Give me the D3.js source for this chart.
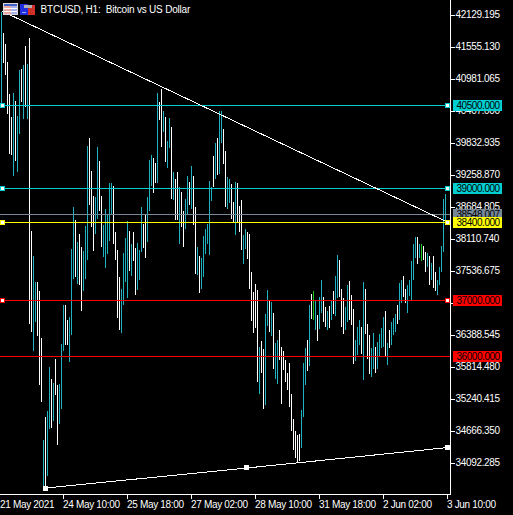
<!DOCTYPE html>
<html><head><meta charset="utf-8">
<script src="https://cdn.jsdelivr.net/npm/d3@7"></script>
<style>
html,body{margin:0;padding:0;background:#000;overflow:hidden}
text{font-family:"Liberation Sans",Arial,sans-serif;font-size:10px;letter-spacing:-0.33px}
</style></head><body><div id="c"></div>
<script>
const title = "BTCUSD, H1:  Bitcoin vs US Dollar";
const highs = [
42174,41797,41600,41277,40703,40290,40721,40577,40308,41134,41152,41223,41564,41241,41707,38245,37796,37330,37330,37169,36325,34496,34908,35016,35805,35591,35518,35949,35482,35500,36218,36917,36917,36649,36702,37923,38675,38443,38048,38191,37958,37886,38335,39770,39913,39322,38873,38855,39752,39501,38873,38353,38640,38532,39106,39106,
39052,38227,37904,37420,37205,37850,38119,38425,38245,38012,38227,37940,38030,37904,38675,38371,38550,38855,39519,39608,39554,39465,40721,40559,40793,40398,40290,39860,40272,40111,39304,39179,39304,39034,38945,38604,38820,39232,39124,39411,39232,38675,37958,37796,37760,38155,38282,38371,39142,39034,39590,39824,39913,40398,40398,40076,
39680,39214,39179,39088,38765,39124,39106,38693,38801,38173,38282,38227,38191,37510,37151,37294,37187,36164,36272,36129,36756,37187,37007,36971,36774,36236,36290,36469,36164,36092,35931,35698,35877,35321,34873,34657,34585,34603,35034,35877,36146,36290,36917,37115,37169,37007,36738,37061,37366,37061,36881,36810,36899,36989,37169,37438,
37814,37725,37205,37043,36881,37276,37348,37097,36846,36290,36523,36649,36523,37330,37205,36577,36379,36146,36415,36164,36254,36397,36505,36702,36810,36236,36469,36613,36684,36756,36917,37312,37366,37438,37205,37276,37366,37707,38012,38137,38137,38012,38012,37976,37868,37850,37796,37671,37796,37510,37366,37599,37976,38820,38909];
const lows = [
40541,41259,41044,40344,39626,39608,39232,39501,39304,39985,40559,40255,40469,40255,36577,36433,36092,36613,36361,35482,35177,33634,33634,33850,34694,34711,34837,35303,34406,34783,35052,36092,36200,36200,35895,36379,37385,37420,37294,37276,36810,37169,37385,37725,38711,38317,37886,38191,38461,38604,37958,37778,37581,37832,38066,38550,
38012,37725,36684,36469,36415,36917,37330,37043,37528,37438,37707,37097,37187,37366,37868,37940,37760,38048,38604,39052,38927,39106,39106,40237,39752,40021,39483,39375,39734,38820,38801,38443,38443,38012,38317,37958,38282,38532,38711,38640,38353,37474,37456,37133,37205,37420,37832,38012,37814,38783,39034,39179,39250,39268,39824,39447,
38675,38640,38747,38461,38407,38173,38407,38227,37904,37653,37923,37743,37205,36631,36415,36505,35536,35321,35698,35052,35123,36541,36433,36361,35770,35591,35500,35931,35141,35752,35536,35393,35087,34657,34316,34172,34101,34119,34352,34908,35482,35734,35823,36667,36649,36469,36272,36488,36774,36613,36523,36469,36505,36649,36756,36720,
37043,37061,36523,36397,36469,36613,36649,36559,35859,35913,36020,36200,36038,35572,36397,35949,35680,35626,35770,35698,35770,36002,36146,36164,36002,35841,36146,36200,36379,36433,36577,36649,36953,37061,36953,36774,37079,37007,37366,37760,37653,37760,37707,37725,37510,37599,37276,37366,37223,37169,37097,37276,37510,37868,38353];
const kinds = ("c w w w w w c w c c w c w c w w c c w w w c w c c w c w w c c c w w c c c w c w w c c c w w w c c w w c c c c c "+
"w w w w c c c c w c w w c c c w w c c c w w c w w c w c c w c w w c w w c c w c w w c w c c c c c c w c w c c w "+
"w c c w w c w w w c c w w w w w w c w w c c w c w c c w w w w w w w w w w w c c c w c w g c w c c w w c w c w c "+
"c w w w c c w w w c c c w c w w w c c w c c c c w c w c c c w c c w w c c c c c w c g w w c w c w w c c c c c").split(" ");
const yTicks = [42129.195,41555.130,40981.065,40407.000,39832.935,39258.870,38684.805,38110.740,37536.675,36962.610,36388.545,35814.480,35240.415,34666.350,34092.285];
const hiddenTick = 36962.610;
const levels = [40500,39000,38400,37000,36000];
const levelColors = ["#00ced1","#00ced1","#ffff00","#ff0000","#ff0000"];
const askPrice = 38548.007;
const timeIdx = [31,63,95,127,159,191,223];
const timeLabels = ["24 May 10:00","25 May 18:00","27 May 02:00","28 May 10:00","31 May 18:00","2 Jun 02:00","3 Jun 10:00"];
const firstLabel = "21 May 2021";
const upperTrend = [[0,42190],[223,38400]];
const lowerTrend = [[22,33634],[122.5,33994],[223,34361]];

const W=513,H=515,bull="#20b2c0",bear="#ffffff",doji="#1ec81e";
const fmt=d3.format(".3f");
const svg=d3.select("#c").append("svg").attr("width",W).attr("height",H).style("display","block").style("background","#000");
const x=d3.scaleLinear().domain([0,223]).range([1,447]);
const y=d3.scaleLinear().domain([42129.195,34092.285]).range([14.5,462.5]);
const row=p=>Math.floor(y(p))+0.5;
const color={c:bull,w:bear,g:doji};

// bars
svg.append("g").attr("shape-rendering","crispEdges").selectAll("rect").data(highs).join("rect")
  .attr("x",(d,i)=>x(i)).attr("width",1)
  .attr("y",d=>Math.round(y(d)))
  .attr("height",(d,i)=>Math.round(y(lows[i]))-Math.round(y(d)))
  .attr("fill",(d,i)=>color[kinds[i]]);

// axes
const gy=svg.append("g").attr("transform","translate(450.5,0)").attr("shape-rendering","crispEdges")
  .call(d3.axisRight(y).tickValues(yTicks).tickFormat(d=>d===hiddenTick?"":fmt(d)).tickSize(4).tickPadding(1));
gy.select(".domain").remove();
gy.selectAll(".tick line").attr("stroke","#fff").attr("transform",d=>`translate(0,${row(d)-y(d)})`);
gy.selectAll("text").attr("fill","#fff").attr("font-family",null).attr("font-size",null);
svg.append("line").attr("x1",450.5).attr("x2",450.5).attr("y1",0).attr("y2",495).attr("stroke","#fff").attr("shape-rendering","crispEdges");

const gx=svg.append("g").attr("transform","translate(0,494.5)").attr("shape-rendering","crispEdges")
  .call(d3.axisBottom(x).tickValues(timeIdx).tickFormat((d,i)=>timeLabels[i]).tickSize(4).tickPadding(2));
gx.select(".domain").remove();
gx.selectAll(".tick line").attr("stroke","#fff");
gx.selectAll("text").attr("fill","#fff").attr("text-anchor","start").attr("font-family",null).attr("font-size",null).attr("dx",-0.5);
svg.append("line").attr("x1",0).attr("x2",451).attr("y1",494.5).attr("y2",494.5).attr("stroke","#fff").attr("shape-rendering","crispEdges");
svg.append("text").attr("x",x(0)-1).attr("y",507.5).attr("fill","#fff").text(firstLabel);

// ask line
svg.append("line").attr("x1",0).attr("x2",450).attr("y1",row(askPrice)).attr("y2",row(askPrice)).attr("stroke","#778899").attr("shape-rendering","crispEdges");
function tag(p,c){
  const r=Math.floor(y(p));
  svg.append("rect").attr("x",453).attr("y",r-5).attr("width",49).attr("height",11).attr("fill",c);
  svg.append("text").attr("x",456.5).attr("y",r+4).attr("fill","#000").style("letter-spacing","-0.45px").text(fmt(p));
}
tag(askPrice,"#778899");

// levels
levels.forEach((p,i)=>{
  svg.append("line").attr("x1",0).attr("x2",450).attr("y1",row(p)).attr("y2",row(p)).attr("stroke",levelColors[i]).attr("shape-rendering","crispEdges");
});

// trend lines
const line=d3.line().x(d=>x(d[0])+1).y(d=>y(d[1]));
[upperTrend,lowerTrend].forEach(t=>svg.append("path").attr("d",line(t)).attr("fill","none").attr("stroke","#fff").attr("stroke-width",1).attr("shape-rendering","crispEdges"));

// handles
function handle(px,r,stroke){
  svg.append("rect").attr("x",px-2+0.5).attr("y",r-2+0.5).attr("width",4).attr("height",4).attr("fill","#fff").attr("stroke",stroke).attr("shape-rendering","crispEdges");
}
levels.forEach((p,i)=>{
  const r=Math.floor(y(p));
  if(i!==4){
    handle(2,r,levelColors[i]);
    handle(x(223),r,levelColors[i]);
  }
});
lowerTrend.forEach(d=>handle(x(d[0]),Math.floor(y(d[1])),"#fff"));

levels.forEach((p,i)=>tag(p,levelColors[i]));

// header icons
const ic=svg.append("g").attr("shape-rendering","crispEdges");
[[3,3,15,12,"#d8d8d8"],[4,4,13,2,"#4060c8"],[4,6,7,8,"#f0a8a0"],[11,6,6,8,"#a8b0f0"],[4,8,13,1,"#ffffff"],[4,11,13,1,"#ffffff"],
 [20,4,8,11,"#2030e0"],[28,5,7,10,"#d03028"],[24,5,8,3,"#b0b0b0"],[22,12,4,1,"#a0a8ff"]].forEach(r=>
  ic.append("rect").attr("x",r[0]).attr("y",r[1]).attr("width",r[2]).attr("height",r[3]).attr("fill",r[4]));
svg.append("text").attr("x",40.5).attr("y",12.5).attr("fill","#fff").style("white-space","pre").style("letter-spacing","-0.2px").text(title);
</script></body></html>
